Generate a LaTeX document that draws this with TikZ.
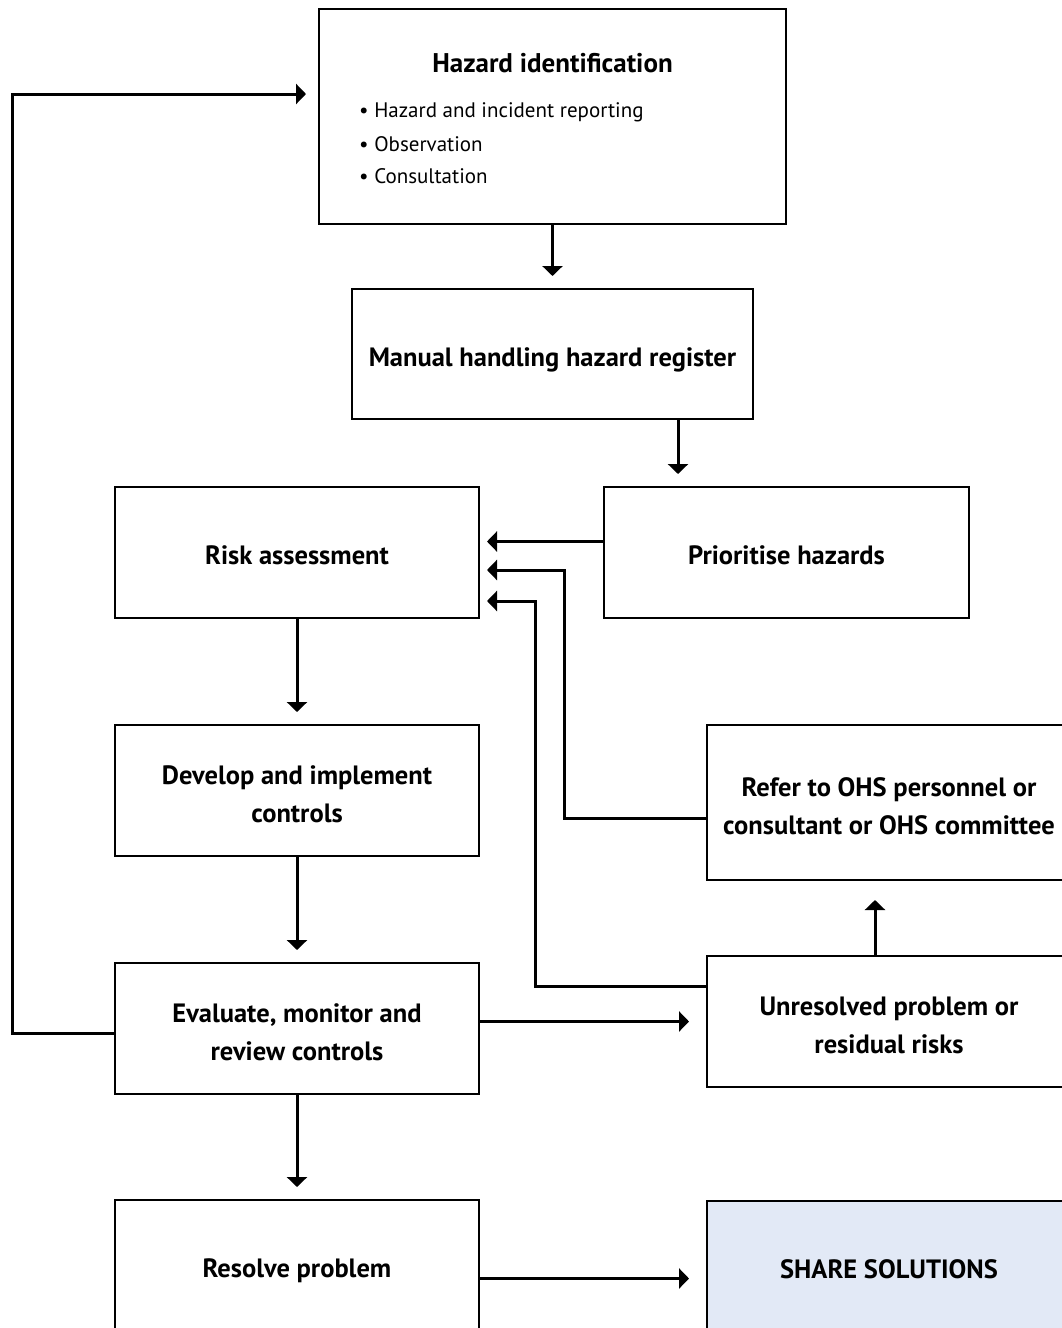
\documentclass[tikz,border=0pt]{standalone}
\usepackage{fontspec}
\setmainfont{PT Sans}
\usetikzlibrary{arrows.meta}
\definecolor{shareblue}{HTML}{E2E9F6}
\tikzset{
  box/.style={draw=black, line width=2pt, rectangle, minimum width=364pt, minimum height=131pt, inner sep=0pt, align=center, font=\fontsize{26.5}{38}\selectfont\bfseries, text height=25pt, text depth=1pt},
  twoline/.style={text height=63pt, text depth=0pt},
  arr/.style={line width=3pt, -{Triangle[length=10pt,width=20pt]}, shorten >=12pt},
  bul/.style={anchor=west, inner sep=0pt, font=\fontsize{21}{24}\selectfont},
}
\begin{document}
\begin{tikzpicture}[x=1pt,y=-1pt]
\useasboundingbox (0,0) rectangle (1062,1328);
\node[box, minimum width=467pt, minimum height=215pt] (hz) at (552.5,116.5) {};
\node[inner sep=0pt, font=\fontsize{27}{30}\selectfont\bfseries] (hzt) at (552.5,63) {Hazard identification};
\node[bul] (b1) at (359,112) {• Hazard and incident reporting};
\node[bul] (b2) at (359,144) {• Observation};
\node[bul] (b3) at (359,176) {• Consultation};
\node[box, minimum width=401pt, minimum height=130pt] (mh) at (552.5,354) {Manual handling hazard register};
\node[box] (ra) at (297,552.5) {Risk assessment};
\node[box, minimum width=365pt] (pr) at (786.5,552.5) {Prioritise hazards};
\node[box, twoline] (dv) at (297,790.5) {Develop and implement\\controls};
\node[box, twoline, minimum height=155pt] (rf) at (889,802.5) {Refer to OHS personnel or\\consultant or OHS committee};
\node[box, twoline] (ev) at (297,1028.5) {Evaluate, monitor and\\review controls};
\node[box, twoline] (un) at (889,1021.5) {Unresolved problem or\\residual risks};
\node[box] (rs) at (297,1265.5) {Resolve problem};
\node[box, fill=shareblue, minimum height=130pt] (sh) at (889,1266) {SHARE SOLUTIONS};
\coordinate (c1) at (564,570);
\coordinate (c2) at (535,601);
\coordinate (c3) at (12,94);
\draw[arr] (hz.south) -- (mh.north);
\draw[arr] ([xshift=125.5pt]mh.south) -- ([xshift=125.5pt]mh.south |- pr.north);
\draw[arr, shorten >=7pt] ([yshift=11pt]pr.west) -- ([yshift=11pt]pr.west -| ra.east);
\draw[arr, shorten >=7pt] ([yshift=-15.5pt]rf.west) -| (c1) -- (c1 -| ra.east);
\draw[arr, shorten >=7pt] ([yshift=35.5pt]un.west) -| (c2) -- (c2 -| ra.east);
\draw[arr] (ra.south) -- (dv.north);
\draw[arr] (dv.south) -- (ev.north);
\draw[arr] (ev.south) -- (rs.north);
\draw[arr, shorten >=17pt] (un.west -| ev.east) -- (un.west);
\draw[arr, shorten >=19pt] ([xshift=-14pt]un.north) -- ([xshift=-14pt]un.north |- rf.south);
\draw[arr, shorten >=17pt] ([yshift=-13pt]rs.east) -- ([yshift=-13pt]rs.east -| sh.west);
\draw[arr] ([yshift=-4.5pt]ev.west) -| (c3) -- (c3 -| hz.west);
\end{tikzpicture}
\end{document}
